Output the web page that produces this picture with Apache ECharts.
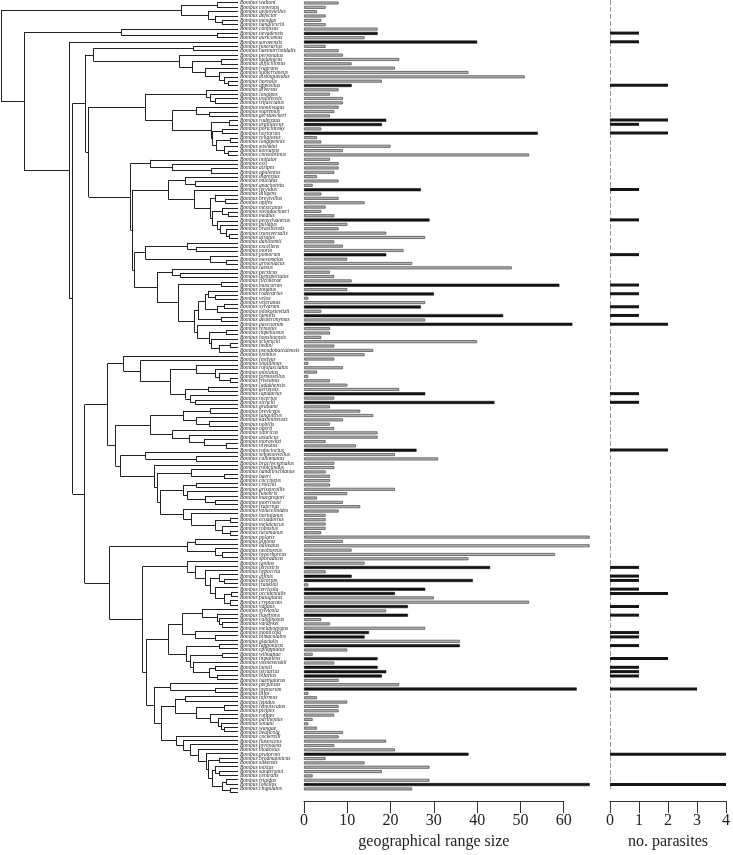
<!DOCTYPE html>
<html><head><meta charset="utf-8">
<script src="https://cdn.jsdelivr.net/npm/echarts@6.0.0/dist/echarts.min.js"></script>
<style>html,body{margin:0;padding:0;background:#fff}#c{width:733px;height:855px}</style>
</head><body><div id="c"></div>
<script>
const genus = "Bombus";
const species = [
"waltoni","convexus","avinoviellus","defector","mendax","handlirschi","confusus","nevadensis","auricomus","soroeensis",
"funerarius","haemorrhoidalis","personatus","melanurus","difficillimus","fragrans","subterraneus","distinguendus","borealis","appositus",
"diversus","longipes","ussurensis","trifasciatus","montivagus","supremus","gerstaeckeri","ruderatus","argillaceus","portchinsky",
"hortorum","religiosus","longipennis","sushkini","koreanus","consobrinus","imitator","exil","atripes","opulentus",
"digressus","mucidus","anachoreta","fervidus","diligens","brevivillus","opifex","mexicanus","steindachneri","medius",
"pensylvanicus","pullatus","brasiliensis","transversalis","atratus","dahlbomii","excellens","morio","pomorum","mesomelas",
"armeniacus","laesus","persicus","inexspectatus","filchnerae","muscorum","zonatus","ruderarius","velox","veteranus",
"sylvarum","mlokosievitzii","humilis","deuteronymus","pascuorum","remotus","impetuosus","honshuensis","schrencki","hedini",
"pseudobaicalensis","eximius","festivus","simillimus","rufofasciatus","miniatus","formosellus","friseanus","ladakhensis","keriensis",
"lapidarius","incertus","sichelii","grahami","breviceps","tanguticus","kashmirensis","nobilis","oberti","sibiricus",
"asiaticus","morawitzi","niveatus","rufocinctus","semenoviellus","cullumanus","brachycephalus","rubicundus","handlirschianus","baeri",
"coccineus","crotchii","griseocollis","funebris","macgregori","morrisoni","fraternus","volucelloides","hortulanus","ecuadorius",
"melaleucus","robustus","tucumanus","polaris","alpinus","balteatus","neoboreus","hyperboreus","sporadicus","ignitus",
"terrestris","hypocrita","affinis","lucorum","franklini","terricola","occidentalis","patagiatus","cryptarum","vagans",
"sylvicola","flavifrons","caliginosus","vandykei","melanopygus","monticola","bimaculatus","glacialis","lapponicus","ephippiatus",
"wilmattae","impatiens","vosnesenskii","huntii","ternarius","bifarius","haematurus","perplexus","hypnorum","biroi",
"infirmus","lepidus","lemniscatus","picipes","rufipes","parthenius","sonani","wangae","beaticola","cockerelli",
"flavescens","pyrenaeus","modestus","pratorum","brodmannicus","sitkensis","mixtus","sandersoni","centralis","frigidus",
"jonellus","cingulatus"];

const rangeSize = [
8,5,3,5,4,5,17,17,14,40,
5,8,9,22,11,21,38,51,18,11,
8,6,9,9,8,7,6,19,18,4,
54,3,4,20,9,52,6,8,8,7,
3,8,2,27,4,8,14,5,4,7,
29,10,8,19,28,7,9,23,19,10,
25,48,6,7,11,59,10,30,1,28,
27,4,46,28,62,6,6,4,40,7,
16,14,7,1,9,3,1,6,10,22,
28,7,44,6,13,16,9,6,7,17,
17,5,12,26,21,31,7,7,5,6,
6,6,21,10,3,9,13,8,5,5,
5,5,4,66,9,66,11,58,38,14,
43,5,11,39,1,28,21,30,52,24,
19,24,4,6,28,15,14,36,36,10,
2,17,7,17,19,18,8,22,63,1,
3,10,8,8,7,2,1,3,9,8,
19,7,21,38,5,14,29,18,2,29,
66,25];

const parasites = [
0,0,0,0,0,0,0,1,0,1,
0,0,0,0,0,0,0,0,0,2,
0,0,0,0,0,0,0,2,1,0,
2,0,0,0,0,0,0,0,0,0,
0,0,0,1,0,0,0,0,0,0,
1,0,0,0,0,0,0,0,1,0,
0,0,0,0,0,1,0,1,0,0,
1,0,1,0,2,0,0,0,0,0,
0,0,0,0,0,0,0,0,0,0,
1,0,1,0,0,0,0,0,0,0,
0,0,0,2,0,0,0,0,0,0,
0,0,0,0,0,0,0,0,0,0,
0,0,0,0,0,0,0,0,0,0,
1,0,1,1,0,1,2,0,0,1,
0,1,0,0,0,1,1,0,1,0,
0,2,0,1,1,1,0,0,3,0,
0,0,0,0,0,0,0,0,0,0,
0,0,0,4,0,0,0,0,0,0,
4,0];

const rangeAxis = {min: 0, max: 60, step: 10, name: "geographical range size"};
const parasiteAxis = {min: 0, max: 4, step: 1, name: "no. parasites"};

// Phylogeny: leaves are row numbers, each internal node carries its depth (root = 0, tips = TIP_DEPTH)
const TIP_DEPTH = 238;
const MEND = "((1,2)217,(3,(4,(5,6)222)215)208)181";
const BOMBIAS = "(7,(8,9)217)121";
const ORIENT = "(11,12)193";
const SUBT = "(13,((14,15)221,(16,(17,(18,(19,20)228)224)219)205)192)179";
const DIVERSO = "(21,(22,(23,24)215)210)206";
const MEGA = "((25,(26,27)209)196,((28,29)229,((30,31)222,((32,33)230,(34,(35,36)228)224)216)212)211)172";
const THOR_A = "(37,(38,(39,40)211)172)150";
const FERV = "(44,((45,(46,47)225)215,((48,(49,50)228)222,(51,(52,(53,(54,55)229)226)220)217)212)210)194";
const THOR_B = "((41,(42,43)195)185," + FERV + ")168";
const THOR_C = "(((56,(57,58)196)187,(59,(60,61)226)210)145,((62,(63,64)180)172,((65,66)221,((((67,(68,69)215)208,((70,71)224,72)217)205,(73,74)221)198,(75,((76,77)226,(78,((79,80)230,81)219)211)209)197)194)178)157)134";
const MEL = "((84,(85,(86,(87,88)230)219)215)196,((89,90)208,(91,(92,93)195)190)185)170";
const H1A = "(82,(83," + MEL + ")140)123";
const SIB = "(((94,95)210,(96,(97,98)209)196)183,(99,(100,(101,(102,103)226)204)189)172)150";
const CULL = "(104,(105,106)196)145";
const H2B = "(107,((108,(109,110)224)191,(((111,112)196,(113,(114,(115,116)215)205)187)183,(117,(118,((119,120)230,(121,(122,123)230)222)215)191)183)160)157)154";
const ALPINO = "((124,125)195,(126,(127,128)222)215)187";
const BOMBUS = "(129,(130,(131,((132,(133,134)224)219,(135,((136,137)231,(138,139)230)224)215)210)205)195)187";
const PYRO1 = "(((140,(141,(142,(143,144)222)219)217)202,(145,(146,147)215)195)182,((148,149)219,((150,151)222,(152,((153,154)215,(155,156)217)209)193)190)186)168";
const PYRO2 = "((157,(158,159)215)170,(((160,161)185,((162,163)224,(164,(165,(166,(167,168)224)221)218)210)196)175,(169,(170,(171,(172,(173,((174,175)219,((176,(177,178)219)215,((179,180)226,(181,182)230)222)212)208)206)198)190)183)176)161)154";
const TREE = "(" + MEND + ",(" + BOMBIAS + ",(10,(((" + ORIENT + "," + SUBT + ")93,((" + DIVERSO + "," + MEGA + ")145,(" + THOR_A + ",(" + THOR_B + "," + THOR_C + ")132)130)88)85,((" + H1A + ",(" + SIB + ",(" + CULL + "," + H2B + ")120)115)107,(" + ALPINO + ",(" + BOMBUS + ",(" + PYRO1 + "," + PYRO2 + ")146)142)109)84)72)68.6)23)0";

function parseTree(s) {
  let i = 0;
  function num() { const j = i; while (i < s.length && /[0-9.]/.test(s[i])) i++; return parseFloat(s.slice(j, i)); }
  function node() {
    if (s[i] === "(") {
      i++;
      const ch = [node()];
      while (s[i] === ",") { i++; ch.push(node()); }
      i++;
      return {children: ch, depth: num()};
    }
    return {leaf: num(), depth: TIP_DEPTH};
  }
  return node();
}
function placeY(n) {
  if (n.children) { n.children.forEach(placeY); n.y = (n.children[0].y + n.children[n.children.length - 1].y) / 2; }
  else n.y = n.leaf - 1;
}
function segments(n, out) {
  if (!n.children) return out;
  const ys = n.children.map(c => c.y);
  out.push([[n.depth, Math.min.apply(null, ys)], [n.depth, Math.max.apply(null, ys)]]);
  n.children.forEach(c => { out.push([[n.depth, c.y], [c.depth, c.y]]); segments(c, out); });
  return out;
}
const root = parseTree(TREE);
placeY(root);
const treeSegs = segments(root, []);

const names = species.map(s => genus + " " + s);
const N = names.length;
const serif = "'Liberation Serif','Times New Roman',serif";
const TOP = 0.52, H = 794.4;

const greyBar = {color: "#b4b4b4", borderColor: "#555", borderWidth: 0.8};
const blackBar = {color: "#151515", borderColor: "#000", borderWidth: 0.5};

function bottomAxis(grid, ax) {
  return {
    type: "value", gridIndex: grid, min: ax.min, max: ax.max, interval: ax.step,
    position: "bottom", offset: 10,
    axisLine: {show: true, lineStyle: {color: "#333", width: 1}},
    axisTick: {show: true, length: 12, lineStyle: {color: "#333", width: 1}},
    axisLabel: {margin: 12, fontSize: 16, fontFamily: serif, color: "#222", showMinLabel: true, showMaxLabel: true},
    splitLine: {show: false},
    name: ax.name, nameLocation: "middle", nameGap: 23,
    nameTextStyle: {fontSize: 16, fontFamily: serif, color: "#222"}
  };
}

const chart = echarts.init(document.getElementById("c"), null, {renderer: "canvas"});
chart.setOption({
  animation: false,
  backgroundColor: "#fff",
  grid: [
    {left: 304, top: TOP, width: 259.7, height: H},
    {left: 610, top: TOP, width: 120, height: H},
    {left: 1, top: TOP, width: 237, height: H}
  ],
  xAxis: [
    bottomAxis(0, rangeAxis),
    bottomAxis(1, parasiteAxis),
    {type: "value", gridIndex: 2, min: 0, max: TIP_DEPTH, show: false}
  ],
  yAxis: [
    {type: "category", gridIndex: 0, data: names, inverse: true,
     axisLine: {show: false}, axisTick: {show: false}, splitLine: {show: false},
     axisLabel: {show: true, interval: 0, align: "left", margin: 64, fontSize: 5.5,
       fontStyle: "italic", fontFamily: serif, color: "#222", hideOverlap: false}},
    {type: "category", gridIndex: 1, data: names, inverse: true,
     axisLine: {show: true, lineStyle: {color: "#999", width: 1, type: [4, 3]}},
     axisTick: {show: false}, axisLabel: {show: false}, splitLine: {show: false}},
    {type: "value", gridIndex: 2, min: -0.5, max: N - 0.5, inverse: true, show: false}
  ],
  series: [
    {type: "bar", xAxisIndex: 0, yAxisIndex: 0, barWidth: 3, clip: false,
     data: rangeSize.map((v, i) => ({value: v, itemStyle: parasites[i] > 0 ? blackBar : greyBar}))},
    {type: "bar", xAxisIndex: 1, yAxisIndex: 1, barWidth: 3,
     itemStyle: {color: "#151515", borderWidth: 0},
     data: parasites.map(v => v > 0 ? v : "-")},
    {type: "lines", coordinateSystem: "cartesian2d", xAxisIndex: 2, yAxisIndex: 2,
     silent: true, lineStyle: {color: "#222", width: 1, opacity: 1},
     data: treeSegs.map(c => ({coords: c}))}
  ]
});
</script></body></html>
